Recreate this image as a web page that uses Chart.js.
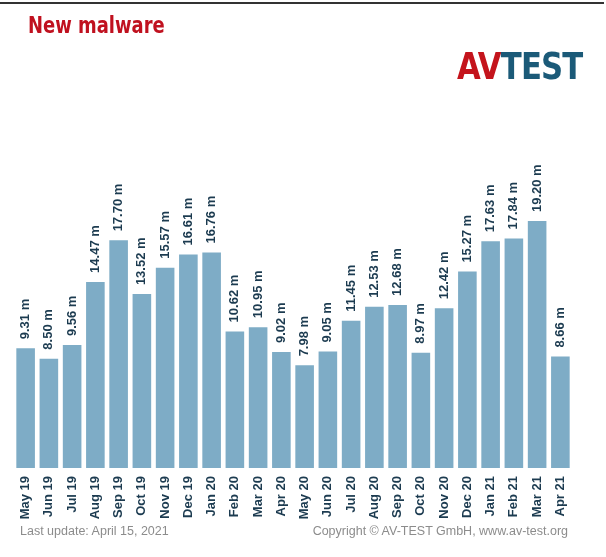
<!DOCTYPE html>
<html>
<head>
<meta charset="utf-8">
<script src="https://cdn.jsdelivr.net/npm/chart.js@4"></script>
<style>
  body { margin: 0; background: #fff; }
  #wrap { position: relative; width: 606px; height: 557px; overflow: hidden; }
  #topline { position: absolute; left: 0; top: 2px; width: 604px; height: 2px; background: #333; }
  #title { position: absolute; left: 28px; top: 12px; font-family: "DejaVu Sans", sans-serif; font-weight: bold; font-size: 23px; color: #c0111f; transform: scaleX(0.78); transform-origin: left top; }
  #logo { position: absolute; left: 457px; top: 45px; font-family: "DejaVu Sans", sans-serif; font-weight: bold; font-size: 37px; transform: scaleX(0.83); transform-origin: left top; letter-spacing: -1px; }
  #logo .av { color: #c4141c; }
  #logo .test { color: #1b5a78; }
  .foot { position: absolute; top: 524px; font-family: "Liberation Sans", Arial, sans-serif; font-size: 12.5px; color: #8c8c8c; }
  #chart { position: absolute; left: 0; top: 0; }
</style>
</head>
<body>
<div id="wrap">
  <div id="topline"></div>
  <canvas id="chart" width="606" height="557"></canvas>
  <div id="title">New malware</div>
  <div id="logo"><span class="av">AV</span><span class="test">TEST</span></div>
  <div class="foot" style="left:20px">Last update: April 15, 2021</div>
  <div class="foot" style="right:38px">Copyright © AV-TEST GmbH, www.av-test.org</div>
</div>
<script>
let months = ["May 19", "Jun 19", "Jul 19", "Aug 19", "Sep 19", "Oct 19", "Nov 19", "Dec 19",
  "Jan 20", "Feb 20", "Mar 20", "Apr 20", "May 20", "Jun 20", "Jul 20", "Aug 20",
  "Sep 20", "Oct 20", "Nov 20", "Dec 20", "Jan 21", "Feb 21", "Mar 21", "Apr 21"];
let malware = [9.31, 8.50, 9.56, 14.47, 17.70, 13.52, 15.57, 16.61,
  16.76, 10.62, 10.95, 9.02, 7.98, 9.05, 11.45, 12.53,
  12.68, 8.97, 12.42, 15.27, 17.63, 17.84, 19.20, 8.66];

const dark = "#1c3b50";

// value labels rotated above each bar
const valueLabels = {
  id: "valueLabels",
  afterDatasetsDraw(chart) {
    let ctx = chart.ctx;
    let meta = chart.getDatasetMeta(0);
    ctx.save();
    ctx.fillStyle = dark;
    ctx.font = "bold 13px 'Liberation Sans', Arial, sans-serif";
    ctx.textAlign = "left";
    ctx.textBaseline = "middle";
    meta.data.forEach((bar, i) => {
      ctx.save();
      ctx.translate(bar.x, bar.y - 9);
      ctx.rotate(-Math.PI / 2);
      ctx.fillText(malware[i].toFixed(2) + " m", 0, 0);
      ctx.restore();
    });
    ctx.restore();
  }
};

let ctx = document.getElementById("chart").getContext("2d");
const chart = new Chart(ctx, {
  type: "bar",
  data: {
    labels: months,
    datasets: [{
      data: malware,
      backgroundColor: "#7eacc6",
      borderWidth: 0,
      barPercentage: 0.8,
      categoryPercentage: 1
    }]
  },
  options: {
    responsive: false,
    animation: false,
    layout: { padding: { left: 14, right: 34, top: 134, bottom: 0 } },
    plugins: { legend: { display: false }, tooltip: { enabled: false } },
    scales: {
      x: {
        grid: { display: false },
        border: { display: false },
        ticks: {
          color: dark,
          font: { family: "'Liberation Sans', Arial, sans-serif", size: 13, weight: "bold" },
          minRotation: 90,
          maxRotation: 90,
          padding: 0,
          autoSkip: false
        },
        afterFit(scale) { scale.height = 89; }
      },
      y: {
        display: false,
        min: 0,
        max: 25.97
      }
    }
  },
  plugins: [valueLabels]
});
</script>
</body>
</html>
